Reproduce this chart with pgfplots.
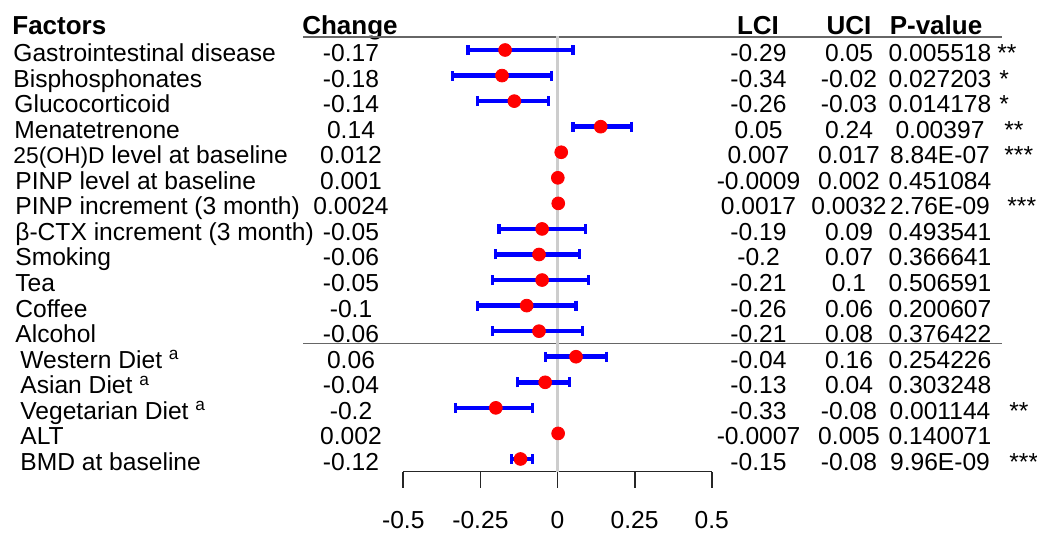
\documentclass[border=0pt]{standalone}
\usepackage{fontspec}
\setmainfont{Liberation Sans}
\usepackage{pgfplots}
\usepackage{pgfplotstable}
\pgfplotsset{compat=1.18}

% row, estimate, lower and upper CI
\pgfplotstableread{
row change lci uci
0 -0.17 -0.29 0.05
1 -0.18 -0.34 -0.02
2 -0.14 -0.26 -0.03
3 0.14 0.05 0.24
4 0.012 0.007 0.017
5 0.001 -0.0009 0.002
6 0.0024 0.0017 0.0032
7 -0.05 -0.19 0.09
8 -0.06 -0.2 0.07
9 -0.05 -0.21 0.1
10 -0.1 -0.26 0.06
11 -0.06 -0.21 0.08
12 0.06 -0.04 0.16
13 -0.04 -0.13 0.04
14 -0.2 -0.33 -0.08
15 0.002 -0.0007 0.005
16 -0.12 -0.15 -0.08
}\forest

\newcommand\bodyfont{\fontsize{12.3}{14}\selectfont}
\newcommand\headfont{\fontsize{13}{15}\selectfont\bfseries}

% one table row: index, label x, label, change, lci, uci, p, stars, stars x
\newcommand\trow[9]{%
  \pgfmathsetmacro\yb{61.5+25.56*#1}%
  \node[anchor=base west] at (#2,\yb) {#3};
  \node[anchor=base] at (351,\yb) {#4};
  \node[anchor=base] at (758.5,\yb) {#5};
  \node[anchor=base] at (849,\yb) {#6};
  \node[anchor=base] at (940,\yb) {#7};
  \node[anchor=base west] at (#9,\yb) {#8};
}

\begin{document}
\begin{tikzpicture}[x=0.5pt, y=-0.5pt, every node/.style={inner sep=0pt, font=\bodyfont}]
\useasboundingbox (0,0) rectangle (1037,534);

\node[anchor=base west, font=\headfont] at (12,34.5) {Factors};
\node[anchor=base, font=\headfont] at (350,34.5) {Change};
\node[anchor=base, font=\headfont] at (758,34.5) {LCI};
\node[anchor=base, font=\headfont] at (849,34.5) {UCI};
\node[anchor=base, font=\headfont] at (936,34.5) {P-value};

\trow{0}{13}{Gastrointestinal disease}{-0.17}{-0.29}{0.05}{0.005518}{**}{997}
\trow{1}{13}{Bisphosphonates}{-0.18}{-0.34}{-0.02}{0.027203}{*}{999}
\trow{2}{14}{Glucocorticoid}{-0.14}{-0.26}{-0.03}{0.014178}{*}{999}
\trow{3}{14}{Menatetrenone}{0.14}{0.05}{0.24}{0.00397}{**}{1004}
\trow{4}{13}{{\fontsize{11.4}{14}\selectfont 25(OH)D} level at baseline}{0.012}{0.007}{0.017}{8.84E-07}{***}{1004}
\trow{5}{15}{PINP level at baseline}{0.001}{-0.0009}{0.002}{0.451084}{}{1005}
\trow{6}{15}{PINP increment (3 month)}{0.0024}{0.0017}{0.0032}{2.76E-09}{***}{1007}
\trow{7}{15}{β-CTX increment (3 month)}{-0.05}{-0.19}{0.09}{0.493541}{}{1005}
\trow{8}{15}{Smoking}{-0.06}{-0.2}{0.07}{0.366641}{}{1005}
\trow{9}{15}{Tea}{-0.05}{-0.21}{0.1}{0.506591}{}{1005}
\trow{10}{15}{Coffee}{-0.1}{-0.26}{0.06}{0.200607}{}{1005}
\trow{11}{15}{Alcohol}{-0.06}{-0.21}{0.08}{0.376422}{}{1005}
\trow{12}{20}{Western Diet \textsuperscript{a}}{0.06}{-0.04}{0.16}{0.254226}{}{1005}
\trow{13}{20}{Asian Diet \textsuperscript{a}}{-0.04}{-0.13}{0.04}{0.303248}{}{1005}
\trow{14}{20}{Vegetarian Diet \textsuperscript{a}}{-0.2}{-0.33}{-0.08}{0.001144}{**}{1009}
\trow{15}{20}{ALT}{0.002}{-0.0007}{0.005}{0.140071}{}{1005}
\trow{16}{20}{BMD at baseline}{-0.12}{-0.15}{-0.08}{9.96E-09}{***}{1009}

\draw[line width=0.7pt, color=black!60] (303,37) -- (1002,37);
\draw[line width=0.7pt, color=black!60] (303,343.5) -- (1002,343.5);

\coordinate (A) at (403.3,471.5);
\begin{axis}[at={(A)}, anchor=south west, scale only axis,
  width=154.2pt, height=217pt,
  xmin=-0.5, xmax=0.5, ymin=-0.489, ymax=16.49, y dir=reverse,
  axis x line*=bottom, hide y axis, clip=false,
  xtick={-0.5,-0.25,0,0.25,0.5}, xticklabels={-0.5,-0.25,0,0.25,0.5},
  tick align=outside, major tick length=8pt,
  x axis line style={line width=0.9pt, black!85},
  every tick/.style={line width=0.9pt, black!85},
  xticklabel style={font=\bodyfont, anchor=north, inner sep=0pt, yshift=-11.5pt}]
\draw[line width=1.5pt, color={rgb,255:red,205;green,205;blue,205}]
  (axis cs:0,-0.53) -- (axis cs:0,16.49);
\addplot[only marks, mark=none,
  error bars/.cd, x dir=both, x explicit,
  error bar style={draw=blue, line width=2.3pt},
  error mark options={draw=blue, line width=1.6pt, mark size=2.5pt, rotate=90}]
  table[x=change, y=row,
    x error plus expr=\thisrow{uci}-\thisrow{change},
    x error minus expr=\thisrow{change}-\thisrow{lci}] {\forest};
\addplot[only marks, mark=*, mark size=3.2pt,
  mark options={draw=red, fill=red}]
  table[x=change, y=row] {\forest};
\end{axis}
\end{tikzpicture}
\end{document}
